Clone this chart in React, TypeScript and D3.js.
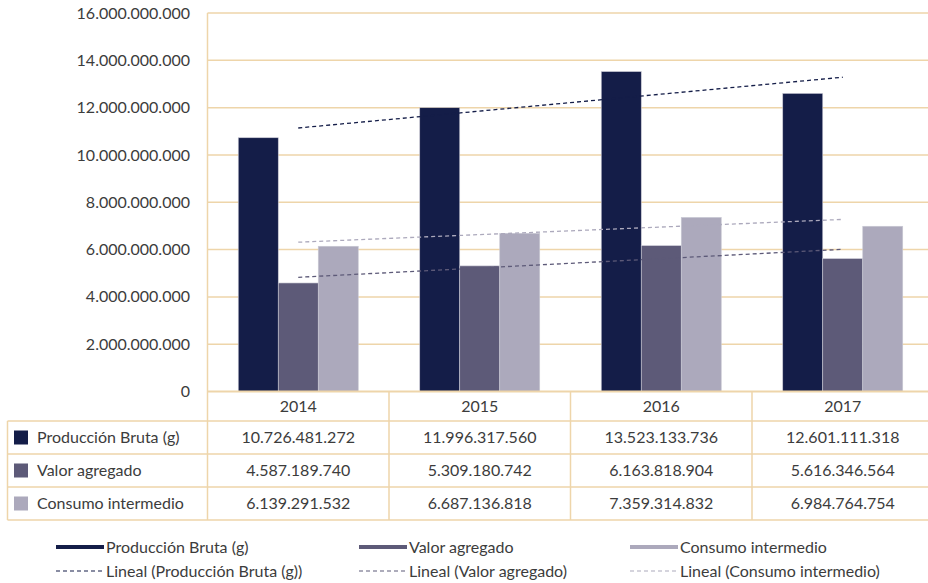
import React, { useRef, useEffect } from 'react';
import * as d3 from 'd3';

const years = ['2014', '2015', '2016', '2017'];
const seriesNames = ['Producción Bruta (g)', 'Valor agregado', 'Consumo intermedio'];
const produccion = [10726481272, 11996317560, 13523133736, 12601111318];
const valor = [4587189740, 5309180742, 6163818904, 5616346564];
const consumo = [6139291532, 6687136818, 7359314832, 6984764754];
const yTicks = [0, 2e9, 4e9, 6e9, 8e9, 10e9, 12e9, 14e9, 16e9];
const colors = ['#141d48', '#5d5a78', '#aca9bc'];

const W = 928;
const H = 583;
const FONT = 'Lato, "Open Sans", sans-serif';
const TEXT = '#3c3c3c';
const GRID = '#eed5aa';

// linear least squares over x = 0..n-1
function trend(vals: number[]) {
  const n = vals.length;
  const xm = (n - 1) / 2;
  const ym = d3.mean(vals) as number;
  let num = 0;
  let den = 0;
  vals.forEach((v, i) => {
    num += (i - xm) * (v - ym);
    den += (i - xm) * (i - xm);
  });
  const slope = num / den;
  return [ym - slope * xm, ym + slope * (n - 1 - xm)];
}

const App: React.FC = () => {
  const svgRef = useRef<SVGSVGElement | null>(null);

  useEffect(() => {
    const svg = d3.select(svgRef.current);
    svg.selectAll('*').remove();

    const data = [produccion, valor, consumo];
    const fmt = d3.formatLocale({ decimal: ',', thousands: '.', grouping: [3], currency: ['', ''] }).format(',d');

    const plotTop = 13;
    const plotBottom = 391.5;
    const plotLeft = 207.5;

    const x0 = d3.scaleBand<string>().domain(years).range([plotLeft, 933.5]).paddingInner(0);
    const groupW = 120;
    const x1 = d3.scaleBand<string>().domain(seriesNames)
      .range([(x0.bandwidth() - groupW) / 2, (x0.bandwidth() + groupW) / 2]);
    const y = d3.scaleLinear().domain([0, 16e9]).range([plotBottom, plotTop]);

    // gridlines
    svg.append('g').selectAll('line').data(yTicks.slice(1)).join('line')
      .attr('x1', plotLeft).attr('x2', W)
      .attr('y1', d => y(d)).attr('y2', d => y(d))
      .attr('stroke', GRID).attr('stroke-width', 1.5);

    // y labels
    svg.append('g').selectAll('text').data(yTicks).join('text')
      .attr('x', 190).attr('y', d => y(d)).attr('dy', '0.35em')
      .attr('text-anchor', 'end')
      .style('font-family', FONT).style('font-size', '16px').attr('fill', TEXT)
      .text(d => fmt(d));

    // bars
    const groups = svg.append('g').selectAll('g').data(years).join('g')
      .attr('transform', d => `translate(${x0(d)},0)`);
    groups.selectAll('rect').data((_, i) => seriesNames.map((s, k) => ({ s, k, v: data[k][i] }))).join('rect')
      .attr('x', d => x1(d.s) as number)
      .attr('width', x1.bandwidth())
      .attr('y', d => y(d.v))
      .attr('height', d => plotBottom - y(d.v))
      .attr('fill', d => colors[d.k])
      .attr('stroke', '#c9c9d4').attr('stroke-width', 0.6);

    // trend lines
    const xt = d3.scaleLinear().domain([0, years.length - 1])
      .range([(x0(years[0]) as number) + x0.bandwidth() / 2, (x0(years[years.length - 1]) as number) + x0.bandwidth() / 2]);
    data.forEach((vals, k) => {
      const [a, b] = trend(vals);
      svg.append('line')
        .attr('x1', xt(0)).attr('x2', xt(vals.length - 1))
        .attr('y1', y(a)).attr('y2', y(b))
        .attr('stroke', colors[k]).attr('stroke-width', 1.3)
        .attr('stroke-dasharray', '4,3');
    });

    // data table
    const rowY = [plotBottom, 421, 454, 487, 520];
    const tbl = svg.append('g');
    tbl.append('line').attr('x1', plotLeft).attr('x2', W).attr('y1', rowY[0]).attr('y2', rowY[0])
      .attr('stroke', GRID).attr('stroke-width', 2);
    rowY.slice(1).forEach(ry => {
      tbl.append('line').attr('x1', 7.5).attr('x2', W).attr('y1', ry).attr('y2', ry)
        .attr('stroke', GRID).attr('stroke-width', 1.5);
    });
    tbl.append('line').attr('x1', plotLeft).attr('x2', plotLeft).attr('y1', plotTop).attr('y2', rowY[4])
      .attr('stroke', GRID).attr('stroke-width', 1.5);
    tbl.append('line').attr('x1', 7.5).attr('x2', 7.5).attr('y1', rowY[1]).attr('y2', rowY[4])
      .attr('stroke', GRID).attr('stroke-width', 1.5);
    years.slice(1).forEach(yr => {
      tbl.append('line').attr('x1', x0(yr) as number).attr('x2', x0(yr) as number)
        .attr('y1', rowY[0]).attr('y2', rowY[4])
        .attr('stroke', GRID).attr('stroke-width', 1.5);
    });
    years.forEach(yr => {
      tbl.append('text')
        .attr('x', (x0(yr) as number) + x0.bandwidth() / 2)
        .attr('y', (rowY[0] + rowY[1]) / 2).attr('dy', '0.35em')
        .attr('text-anchor', 'middle')
        .style('font-family', FONT).style('font-size', '16px').attr('fill', TEXT)
        .text(yr);
    });
    seriesNames.forEach((s, k) => {
      const cy = (rowY[k + 1] + rowY[k + 2]) / 2;
      tbl.append('rect').attr('x', 14).attr('y', cy - 7).attr('width', 14).attr('height', 14)
        .attr('fill', colors[k]);
      tbl.append('text').attr('x', 37).attr('y', cy).attr('dy', '0.35em')
        .style('font-family', FONT).style('font-size', '16px').attr('fill', TEXT)
        .text(s);
      years.forEach((yr, i) => {
        tbl.append('text')
          .attr('x', (x0(yr) as number) + x0.bandwidth() / 2)
          .attr('y', cy).attr('dy', '0.35em')
          .attr('text-anchor', 'middle')
          .style('font-family', FONT).style('font-size', '16px').attr('fill', TEXT)
          .text(fmt(data[k][i]));
      });
    });

    // legend
    const legX = [56, 359, 630];
    const legY = [547, 571];
    seriesNames.forEach((s, k) => {
      const lg = svg.append('g');
      lg.append('line').attr('x1', legX[k]).attr('x2', legX[k] + 48)
        .attr('y1', legY[0]).attr('y2', legY[0])
        .attr('stroke', colors[k]).attr('stroke-width', 4);
      lg.append('text').attr('x', legX[k] + 50).attr('y', legY[0]).attr('dy', '0.35em')
        .style('font-family', FONT).style('font-size', '16px').attr('fill', TEXT)
        .text(s);
      lg.append('line').attr('x1', legX[k]).attr('x2', legX[k] + 46)
        .attr('y1', legY[1]).attr('y2', legY[1])
        .attr('stroke', colors[k]).attr('stroke-width', 1.2)
        .attr('stroke-dasharray', '4,3');
      lg.append('text').attr('x', legX[k] + 50).attr('y', legY[1]).attr('dy', '0.35em')
        .style('font-family', FONT).style('font-size', '16px').attr('fill', TEXT)
        .text(`Lineal (${s})`);
    });
  }, []);

  return (
    <svg ref={svgRef} width={W} height={H}
      style={{ position: 'absolute', left: 0, top: 0, background: '#fff' }} />
  );
};

export default App;
